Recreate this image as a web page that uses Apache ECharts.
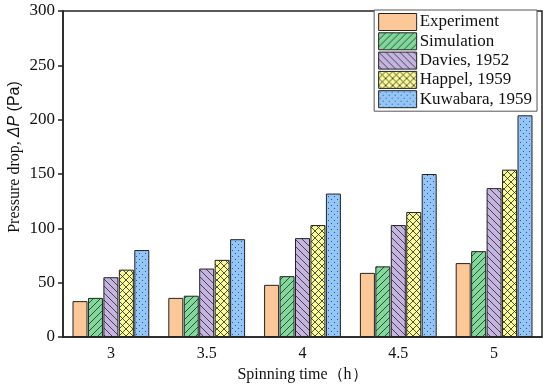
<!DOCTYPE html>
<html><head><meta charset="utf-8">
<script src="https://cdn.jsdelivr.net/npm/echarts@6/dist/echarts.min.js"></script>
<style>html,body{margin:0;padding:0;background:#fff}#c{width:550px;height:387px}</style>
</head><body><div id="c"></div>
<script>
var categories = ['3', '3.5', '4', '4.5', '5'];
var seriesNames = ['Experiment', 'Simulation', 'Davies, 1952', 'Happel, 1959', 'Kuwabara, 1959'];
var experiment = [33, 36, 48, 59, 68];
var simulation = [36, 38, 56, 65, 79];
var davies = [55, 63, 91, 103, 137];
var happel = [62, 71, 103, 115, 154];
var kuwabara = [80, 90, 132, 150, 204];
var yTicks = [0, 50, 100, 150, 200, 250, 300];

var colors = ['#FDC898', '#80D89A', '#C6B4E0', '#FBFB98', '#92C5F8'];
var patterns = ['none', 'slash', 'back', 'cross', 'dots'];

function makePattern(bg, kind) {
  if (kind === 'none') return bg;
  var s = 7;
  var cv = document.createElement('canvas');
  cv.width = s; cv.height = s;
  var g = cv.getContext('2d');
  g.fillStyle = bg; g.fillRect(0, 0, s, s);
  g.strokeStyle = 'rgba(30,30,30,0.85)'; g.lineWidth = 0.9;
  function slash() {
    g.beginPath();
    g.moveTo(-1, s + 1); g.lineTo(s + 1, -1);
    g.moveTo(-1, 1); g.lineTo(1, -1);
    g.moveTo(s - 1, s + 1); g.lineTo(s + 1, s - 1);
    g.stroke();
  }
  function back() {
    g.beginPath();
    g.moveTo(-1, -1); g.lineTo(s + 1, s + 1);
    g.moveTo(s - 1, -1); g.lineTo(s + 1, 1);
    g.moveTo(-1, s - 1); g.lineTo(1, s + 1);
    g.stroke();
  }
  if (kind === 'slash') slash();
  else if (kind === 'back') back();
  else if (kind === 'cross') { slash(); back(); }
  else if (kind === 'dots') {
    cv.width = 6; cv.height = 6;
    g = cv.getContext('2d');
    g.fillStyle = bg; g.fillRect(0, 0, 6, 6);
    g.fillStyle = 'rgba(40,40,60,0.75)';
    g.fillRect(1, 1, 1, 1); g.fillRect(4, 4, 1, 1);
  }
  return {image: cv, repeat: 'repeat'};
}

var data = [experiment, simulation, davies, happel, kuwabara];

var series = data.map(function (d, i) {
  return {
    name: seriesNames[i], type: 'bar', data: d, barWidth: 15, barGap: '3%',
    itemStyle: {color: makePattern(colors[i], patterns[i]), borderColor: '#222', borderWidth: 1}
  };
});

var chart = echarts.init(document.getElementById('c'));
chart.setOption({
  animation: false,
  backgroundColor: '#fff',
  grid: {left: 63, right: 8, top: 11, bottom: 50, containLabel: false, outerBoundsMode: 'none',
    show: true, borderColor: '#222', borderWidth: 1.5, backgroundColor: 'transparent'},
  legend: {
    right: 13, top: 10, orient: 'vertical', icon: 'rect', itemWidth: 38, itemHeight: 17, itemGap: 1.3,
    borderColor: '#555', borderWidth: 1, padding: [3, 5, 3, 4], backgroundColor: '#fff',
    itemStyle: {borderColor: '#222', borderWidth: 1},
    textStyle: {fontFamily: 'Liberation Serif', fontSize: 17, color: '#111', lineHeight: 17, padding: [0, 0, 0, -2]},
    data: seriesNames
  },
  xAxis: {
    type: 'category', data: categories,
    name: 'Spinning time\uff08h\uff09', nameLocation: 'middle', nameGap: 30,
    nameTextStyle: {fontFamily: 'Liberation Serif', fontSize: 16, color: '#111'},
    axisLine: {lineStyle: {color: '#222', width: 1.5}},
    axisTick: {inside: true, alignWithLabel: true, length: 5, lineStyle: {color: '#222', width: 1.5}},
    axisLabel: {fontFamily: 'Liberation Serif', fontSize: 16, color: '#111', margin: 9}
  },
  yAxis: {
    type: 'value', min: 0, max: 300, interval: 50,
    name: '{a|Pressure drop, }{b|\u0394P}{c| (Pa)}', nameLocation: 'middle', nameGap: 40,
    nameMoveOverlap: false,
    nameTextStyle: {
      padding: [0, 0, 0, 34],
      rich: {
        a: {fontFamily: 'Liberation Serif', fontSize: 16, color: '#111'},
        b: {fontFamily: 'Liberation Sans', fontStyle: 'italic', fontSize: 16, color: '#111'},
        c: {fontFamily: 'Liberation Sans', fontSize: 16, color: '#111'}
      }
    },
    axisLine: {show: true, lineStyle: {color: '#222', width: 1.5}},
    axisTick: {show: true, length: 5, lineStyle: {color: '#222', width: 1.5}},
    splitLine: {show: false},
    axisLabel: {fontFamily: 'Liberation Serif', fontSize: 17, color: '#111', margin: 8,
      formatter: function (v) { return yTicks.indexOf(v) >= 0 ? String(v) : ''; }}
  },
  series: series
});
</script></body></html>
